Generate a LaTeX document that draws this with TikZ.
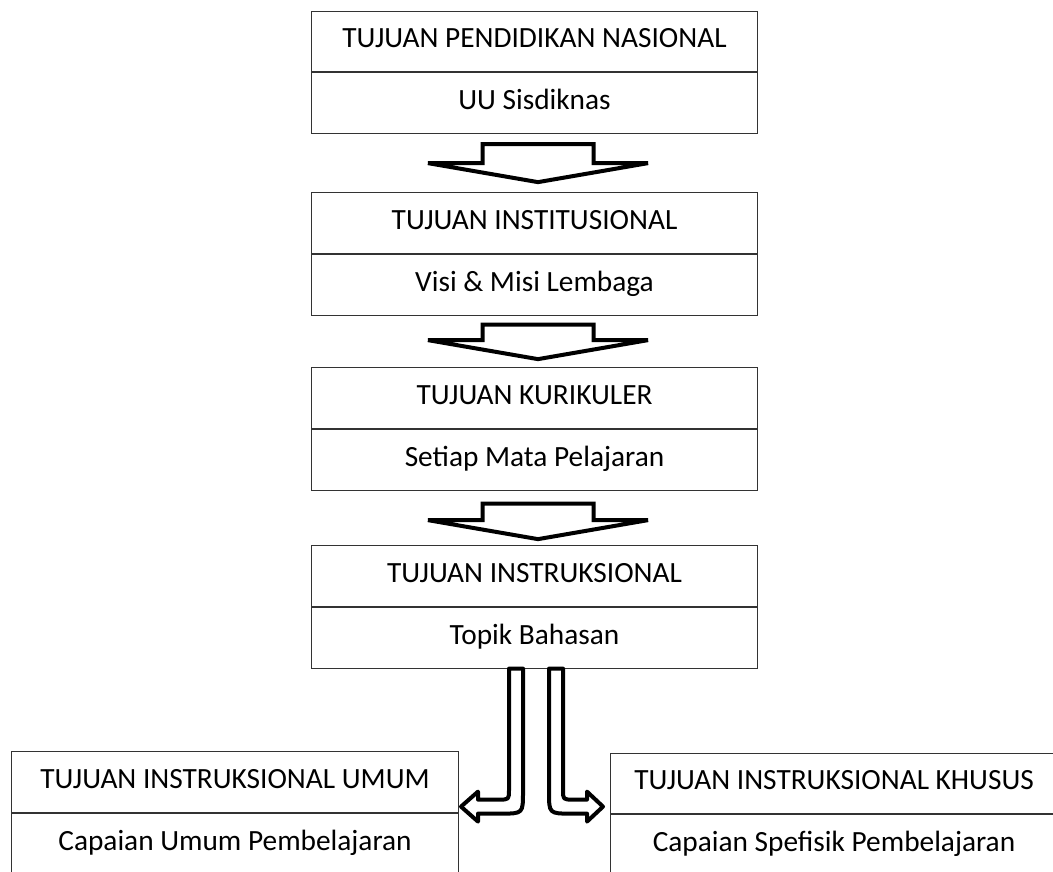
\documentclass[tikz,border=0pt]{standalone}
\usepackage{fontspec}
\setmainfont{Carlito}
\usetikzlibrary{calc,positioning}

\begin{document}
\begin{tikzpicture}[x=0.75pt,y=-0.75pt,
  box/.style={draw=black!80, line width=0.8pt, minimum width=335pt, minimum height=45.5pt,
    inner sep=0pt, text height=1.15em, text depth=0.2em, font=\fontsize{22}{26}\selectfont},
  blockarrow/.style={draw=black, fill=white, line width=3pt, line join=miter},
  bentarrow/.style={draw=black, fill=white, line width=3pt, line join=round}]

% Page frame
\useasboundingbox (0,0) rectangle (1053,871);
\clip (0,0) rectangle (1053,871);

% Level boxes
\node[box] (nas) at (534.5,41.5) {TUJUAN PENDIDIKAN NASIONAL};
\node[box, below=0pt of nas] (nasSub) {UU Sisdiknas};

\node[box] (ins) at (534.5,223) {TUJUAN INSTITUSIONAL};
\node[box, below=0pt of ins] (insSub) {Visi \& Misi Lembaga};

\node[box] (kur) at (534.5,398) {TUJUAN KURIKULER};
\node[box, below=0pt of kur] (kurSub) {Setiap Mata Pelajaran};

\node[box] (inst) at (534.5,576) {TUJUAN INSTRUKSIONAL};
\node[box, below=0pt of inst] (instSub) {Topik Bahasan};

% Bottom boxes
\node[box] (tiu) at (235,782) {TUJUAN INSTRUKSIONAL UMUM};
\node[box, below=0pt of tiu] (tiuSub) {Capaian Umum Pembelajaran};

\node[box] (tik) at (834,783.5) {TUJUAN INSTRUKSIONAL KHUSUS};
\node[box, below=0pt of tik] (tikSub) {Capaian Spefisik Pembelajaran};

% Arrow nasional -> institusional
\coordinate (a1) at ($(nasSub.south)+(3.5,10)$);
\coordinate (t1) at ($(ins.north)+(3.5,-10)$);
\draw[blockarrow] ($(a1)+(-55.5,0)$) -- ($(a1)+(55.5,0)$) -- ($(t1)+(55.5,-19)$)
  -- ($(t1)+(110,-19)$) -- (t1) -- ($(t1)+(-110,-19)$) -- ($(t1)+(-55.5,-19)$) -- cycle;

% Arrow institusional -> kurikuler
\coordinate (a2) at ($(insSub.south)+(3.5,9)$);
\coordinate (t2) at ($(kur.north)+(3.5,-8)$);
\draw[blockarrow] ($(a2)+(-55.5,0)$) -- ($(a2)+(55.5,0)$) -- ($(t2)+(55.5,-19)$)
  -- ($(t2)+(110,-19)$) -- (t2) -- ($(t2)+(-110,-19)$) -- ($(t2)+(-55.5,-19)$) -- cycle;

% Arrow kurikuler -> instruksional
\coordinate (a3) at ($(kurSub.south)+(3.5,13)$);
\coordinate (t3) at ($(inst.north)+(3.5,-6)$);
\draw[blockarrow] ($(a3)+(-55.5,0)$) -- ($(a3)+(55.5,0)$) -- ($(t3)+(55.5,-19)$)
  -- ($(t3)+(110,-19)$) -- (t3) -- ($(t3)+(-110,-19)$) -- ($(t3)+(-55.5,-19)$) -- cycle;

% Bent arrow to umum
\draw[bentarrow, shift={(instSub.south)}] (-25.5,0) -- (-25.5,121)
  .. controls (-25.5,131) .. (-35.5,131) -- (-56.5,131) -- (-56.5,123) -- (-73.5,138)
  -- (-56.5,153) -- (-56.5,145) -- (-33.5,145) .. controls (-11.5,145) .. (-11.5,123)
  -- (-11.5,0) -- cycle;

% Bent arrow to khusus
\draw[bentarrow, shift={(instSub.south)}] (28.5,0) -- (28.5,121)
  .. controls (28.5,131) .. (38.5,131) -- (52.5,131) -- (52.5,123) -- (68.5,138)
  -- (52.5,153) -- (52.5,145) -- (36.5,145) .. controls (14.5,145) .. (14.5,123)
  -- (14.5,0) -- cycle;

\end{tikzpicture}
\end{document}
